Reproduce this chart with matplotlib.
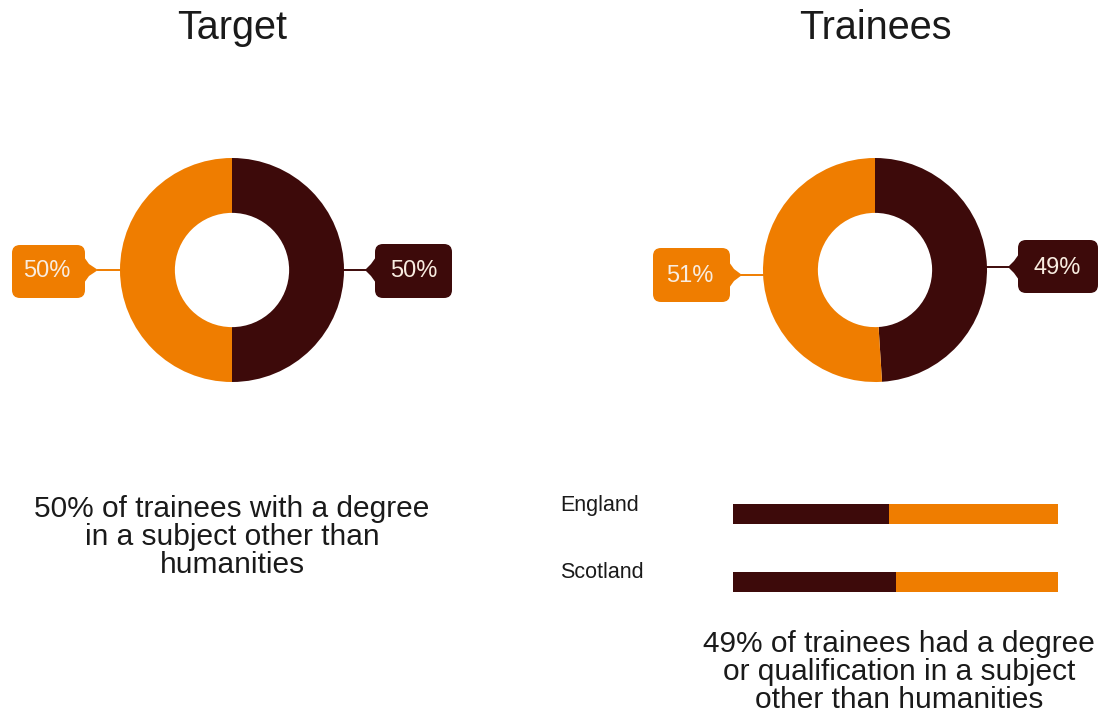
import matplotlib
matplotlib.use("Agg")
import matplotlib.pyplot as plt
from matplotlib.patches import FancyBboxPatch, Polygon

plt.rcParams["font.family"] = ["Liberation Sans", "DejaVu Sans"]

# ---- data ----
panel_titles = ["Target", "Trainees"]
target_shares = [50, 50]        # [other subjects, humanities]
trainee_shares = [49, 51]       # [other subjects, humanities]
nations = ["England", "Scotland"]
nation_other = [48, 50]         # % with degree in a subject other than humanities
target_note = "50% of trainees with a degree\nin a subject other than\nhumanities"
trainee_note = "49% of trainees had a degree\nor qualification in a subject\nother than humanities"

DARK = "#3d0a0a"
ORANGE = "#ef7d00"
LABEL_TXT = "#f8ece0"
TEXT = "#1a1a1a"

W, H = 1105, 722
fig = plt.figure(figsize=(W / 100, H / 100), dpi=100)
fig.patch.set_facecolor("white")


def px_axes(x0, y0, x1, y1):
    """Axes placed by pixel box (top-left origin)."""
    return fig.add_axes([x0 / W, 1 - y1 / H, (x1 - x0) / W, (y1 - y0) / H])


# overlay for text and callouts, in pixel coordinates
ov = px_axes(0, 0, W, H)
ov.set_xlim(0, W)
ov.set_ylim(H, 0)
ov.axis("off")
ov.set_zorder(5)


def donut(cx, cy, r, shares):
    ax = px_axes(cx - r, cy - r, cx + r, cy + r)
    ax.pie(shares, colors=[DARK, ORANGE], startangle=90, counterclock=False,
           radius=1.0, wedgeprops=dict(width=0.49, linewidth=0))
    ax.set_xlim(-1, 1)
    ax.set_ylim(-1, 1)
    ax.set_aspect("equal")
    ax.axis("off")


def callout(box, tip, line_end, color, text, text_xy):
    x0, y0, x1, y1 = box
    ov.add_patch(FancyBboxPatch((x0, y0), x1 - x0, y1 - y0,
                                boxstyle="round,pad=0,rounding_size=8",
                                fc=color, ec="none"))
    tx, ty = tip
    edge = x1 if tx > x1 else x0
    s = 1 if tx > edge else -1
    # pointer with slightly concave flanks
    ov.add_patch(Polygon([(edge - s * 1, ty - 13), (edge + s * 4, ty - 6),
                          (tx, ty), (edge + s * 4, ty + 6), (edge - s * 1, ty + 13)],
                         closed=True, fc=color, ec="none"))
    ov.plot([tx, line_end], [ty, ty], color=color, lw=1.4)
    ov.text(text_xy[0], text_xy[1], text, color=LABEL_TXT,
            fontsize=17, ha="center", va="center")


# titles
ov.text(232, 28, panel_titles[0], fontsize=28.5, ha="center", va="center", color=TEXT)
ov.text(875, 28, panel_titles[1], fontsize=28.5, ha="center", va="center", color=TEXT)

# donuts
donut(232, 270, 112, target_shares)
donut(875, 270, 112, trainee_shares)

# value callouts
callout((12, 245, 85, 298), (98, 270), 120, ORANGE, f"{target_shares[1]}%", (47, 271))
callout((375, 244, 452, 298), (365, 270), 344, DARK, f"{target_shares[0]}%", (414, 271))
callout((653, 248, 730, 302), (742, 275), 763, ORANGE, f"{trainee_shares[1]}%", (690, 276))
callout((1018, 240, 1098, 293), (1008, 267), 987, DARK, f"{trainee_shares[0]}%", (1057, 268))

# notes
ov.text(232, 537, target_note, fontsize=21.5, ha="center", va="center",
        color=TEXT, linespacing=1.0)
ov.text(899, 672, trainee_note, fontsize=21.5, ha="center", va="center",
        color=TEXT, linespacing=1.0)

# nation bars
bx = px_axes(733, 480, 1058, 616)
ypos = list(range(len(nations)))
bx.barh(ypos, nation_other, height=0.30, color=DARK, linewidth=0)
bx.barh(ypos, [100 - v for v in nation_other], left=nation_other,
        height=0.30, color=ORANGE, linewidth=0)
bx.set_xlim(0, 100)
bx.set_ylim(len(nations) - 0.5, -0.5)
bx.axis("off")

for i, name in enumerate(nations):
    ov.text(560, 505 + 67 * i, name, fontsize=15.5, ha="left", va="center", color=TEXT)

fig.savefig("out.png", dpi=100, facecolor="white")
